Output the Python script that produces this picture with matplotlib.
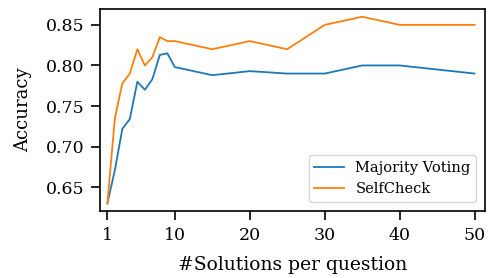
import matplotlib
matplotlib.use("Agg")
import matplotlib.pyplot as plt

# number of sampled solutions per question
n_solutions = [1, 2, 3, 4, 5, 6, 7, 8, 9, 10, 15, 20, 25, 30, 35, 40, 50]

majority_voting = [0.630, 0.671, 0.722, 0.734, 0.780, 0.770, 0.783, 0.813, 0.815,
                   0.798, 0.788, 0.793, 0.790, 0.790, 0.800, 0.800, 0.790]
selfcheck = [0.630, 0.735, 0.778, 0.790, 0.820, 0.800, 0.810, 0.835, 0.830,
             0.830, 0.820, 0.830, 0.820, 0.850, 0.860, 0.850, 0.850]

xticks = [1, 10, 20, 30, 40, 50]
yticks = [0.65, 0.70, 0.75, 0.80, 0.85]

plt.rcParams['font.family'] = ['DejaVu Serif']

fig = plt.figure(figsize=(4.89, 2.78), dpi=100)
ax = fig.add_axes([0.205, 0.242, 0.787, 0.724])

ax.plot(n_solutions, majority_voting, color='#1f77b4', lw=1.3, label='Majority Voting')
ax.plot(n_solutions, selfcheck, color='#ff7f0e', lw=1.3, label='SelfCheck')

ax.set_xlim(0.05, 51.4)
ax.set_ylim(0.621, 0.869)
ax.set_xticks(xticks)
ax.set_yticks(yticks)
ax.tick_params(labelsize=12.5, length=6.5, width=1.2, pad=5)
for s in ax.spines.values():
    s.set_linewidth(1.2)

ax.set_xlabel('#Solutions per question', fontsize=13.5, labelpad=9)
ax.set_ylabel('Accuracy', fontsize=13, labelpad=10)
ax.legend(loc='lower right', fontsize=10.5, borderaxespad=0.6)

fig.savefig('out.png', dpi=100)
